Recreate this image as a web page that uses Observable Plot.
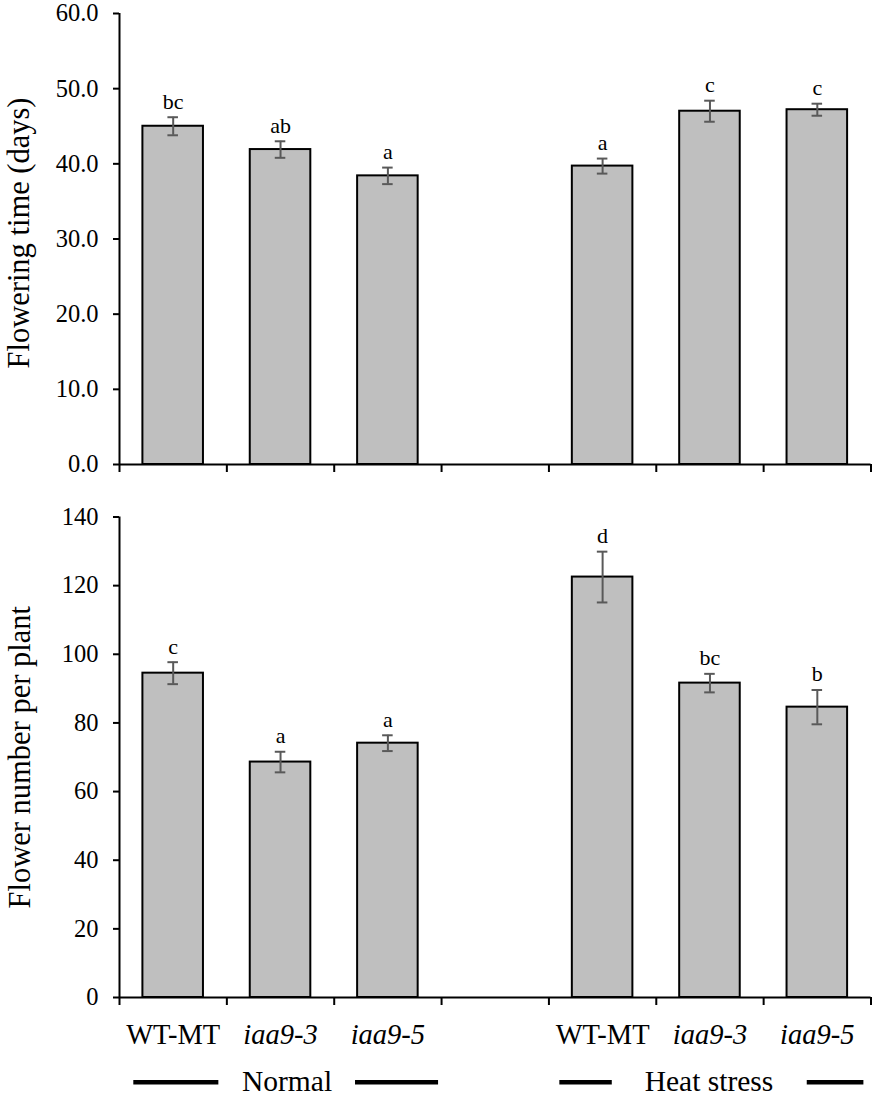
<!DOCTYPE html>
<html>
<head>
<meta charset="utf-8">
<script src="https://cdn.jsdelivr.net/npm/d3@7"></script>
<script src="https://cdn.jsdelivr.net/npm/@observablehq/plot@0.6"></script>
<style>
  html, body { margin: 0; padding: 0; background: #fff; }
  #chart svg { display: block; font-family: "Liberation Serif", "Times New Roman", serif !important; }
  #chart svg text { font-family: "Liberation Serif", "Times New Roman", serif; }
</style>
</head>
<body>
<div id="chart"></div>
<script>
// ---- data ----
const genotypes = ["WT-MT", "iaa9-3", "iaa9-5"];
const conditions = ["Normal", "Heat stress"];
const floweringTime = [45.0, 41.9, 38.4, 39.7, 47.0, 47.2];
const floweringTimeSE = [1.2, 1.1, 1.1, 1.0, 1.4, 0.8];
const floweringTimeLetters = ["bc", "ab", "a", "a", "c", "c"];
const flowerNumber = [94.5, 68.6, 74.1, 122.5, 91.6, 84.6];
const flowerNumberSE = [3.2, 3.0, 2.3, 7.4, 2.7, 5.0];
const flowerNumberLetters = ["c", "a", "a", "d", "bc", "b"];
const floweringTimeTicks = [0, 10, 20, 30, 40, 50, 60];
const flowerNumberTicks = [0, 20, 40, 60, 80, 100, 120, 140];
const floweringTimeTitle = "Flowering time (days)";
const flowerNumberTitle = "Flower number per plant";

// ---- derived tables ----
const keyOf = (c, g) => c + "|" + g;
const slots = [
  ...genotypes.map(g => keyOf(conditions[0], g)),
  "spacer",
  ...genotypes.map(g => keyOf(conditions[1], g))
];
function makeRows(values, errs, letters) {
  const out = [];
  conditions.forEach((c, ci) => genotypes.forEach((g, gi) => {
    const i = ci * genotypes.length + gi;
    out.push({key: keyOf(c, g), condition: c, genotype: g, v: values[i], e: errs[i], letter: letters[i]});
  }));
  return out;
}
const topRows = makeRows(floweringTime, floweringTimeSE, floweringTimeLetters);
const botRows = makeRows(flowerNumber, flowerNumberSE, flowerNumberLetters);

// ---- layout ----
const W = 876, ML = 119, MR = 5.5;
const step = (W - ML - MR) / slots.length;
const font = "'Liberation Serif', 'Times New Roman', serif";
const barFill = "#bfbfbf", errColor = "#595959";

function panel({data, ticks, fmt, title, height, marginTop, marginBottom, titleDx, titleDy, extra = []}) {
  const ymax = ticks[ticks.length - 1];
  return Plot.plot({
    width: W, height, marginTop, marginBottom, marginLeft: ML, marginRight: MR,
    style: `font-family: ${font}; background: #fff; color: #000;`,
    x: {domain: slots, paddingInner: 0.436, paddingOuter: 0.218, round: false, axis: null},
    y: {domain: [0, ymax], axis: null},
    marks: [
      Plot.axisY({ticks, tickFormat: fmt, tickSize: 6, tickPadding: 15, fontSize: 24.5, fontFamily: font, strokeWidth: 2, label: null}),
      Plot.barY(data, {x: "key", y: "v", fill: barFill, stroke: "#000", strokeWidth: 2}),
      Plot.ruleX(data, {x: "key", y1: d => d.v - d.e, y2: d => d.v + d.e, stroke: errColor, strokeWidth: 2}),
      Plot.tickY(data, {x: "key", y: d => d.v + d.e, inset: 25, stroke: errColor, strokeWidth: 2}),
      Plot.tickY(data, {x: "key", y: d => d.v - d.e, inset: 25, stroke: errColor, strokeWidth: 2}),
      Plot.text(data, {x: "key", y: d => d.v + d.e, text: "letter", dy: -8.5, lineAnchor: "bottom", fontSize: 22, fontFamily: font}),
      // y axis line
      Plot.ruleX([slots[0]], {x: d => d, y1: () => 0, y2: () => ymax, dx: -step / 2, strokeWidth: 2}),
      // x axis line
      Plot.ruleY([0], {strokeWidth: 2}),
      // category boundary ticks
      Plot.ruleX(slots, {x: d => d, y1: () => 0, y2: () => 0, insetBottom: -8, dx: -step / 2, strokeWidth: 2}),
      Plot.ruleX([slots[slots.length - 1]], {x: d => d, y1: () => 0, y2: () => 0, insetBottom: -8, dx: step / 2, strokeWidth: 2}),
      // y title
      Plot.text([title], {text: d => d, frameAnchor: "left", textAnchor: "middle", rotate: -90, lineAnchor: "bottom", dx: titleDx, dy: titleDy, fontSize: 30.5, fontFamily: font}),
      ...extra
    ]
  });
}

const topPanel = panel({
  data: topRows, ticks: floweringTimeTicks, fmt: d3.format(".1f"), title: floweringTimeTitle,
  height: 490, marginTop: 13, marginBottom: 26, titleDx: 28 - ML, titleDy: -6
});

const groupRows = conditions.map(c => ({
  label: c,
  first: keyOf(c, genotypes[0]),
  mid: keyOf(c, genotypes[1]),
  last: keyOf(c, genotypes[genotypes.length - 1])
}));
const lineStyle = {y: () => 0, dy: 84.7, strokeWidth: 4.5, stroke: "#000"};
const groupText = {x: "mid", text: "label", frameAnchor: "bottom", textAnchor: "middle", dy: 93, lineAnchor: "bottom", fontSize: 29.5, fontFamily: font};

const bottomPanel = panel({
  data: botRows, ticks: flowerNumberTicks, fmt: d3.format("d"), title: flowerNumberTitle,
  height: 607, marginTop: 26.5, marginBottom: 100, titleDx: 29 - ML, titleDy: 0,
  extra: [
    Plot.text(botRows.filter(d => !d.genotype.startsWith("iaa")), {x: "key", text: "genotype", frameAnchor: "bottom", dy: 46, lineAnchor: "bottom", fontSize: 28.5, fontFamily: font}),
    Plot.text(botRows.filter(d => d.genotype.startsWith("iaa")), {x: "key", text: "genotype", frameAnchor: "bottom", dy: 46, lineAnchor: "bottom", fontSize: 28.5, fontStyle: "italic", fontFamily: font}),
    // Normal
    Plot.text(groupRows.slice(0, 1), {...groupText, dx: 6.5}),
    Plot.ruleY(groupRows.slice(0, 1), {...lineStyle, x1: "first", x2: "first", insetLeft: -9.1, insetRight: -15.4}),
    Plot.ruleY(groupRows.slice(0, 1), {...lineStyle, x1: "last", x2: "last", insetLeft: -2.1, insetRight: -20.4}),
    // Heat stress
    Plot.text(groupRows.slice(1, 2), {...groupText, dx: -1}),
    Plot.ruleY(groupRows.slice(1, 2), {...lineStyle, x1: "first", x2: "first", insetLeft: -12.5, insetRight: 20.6}),
    Plot.ruleY(groupRows.slice(1, 2), {...lineStyle, x1: "last", x2: "last", insetLeft: 20.2, insetRight: -16.3})
  ]
});

document.getElementById("chart").append(topPanel, bottomPanel);
</script>
</body>
</html>
